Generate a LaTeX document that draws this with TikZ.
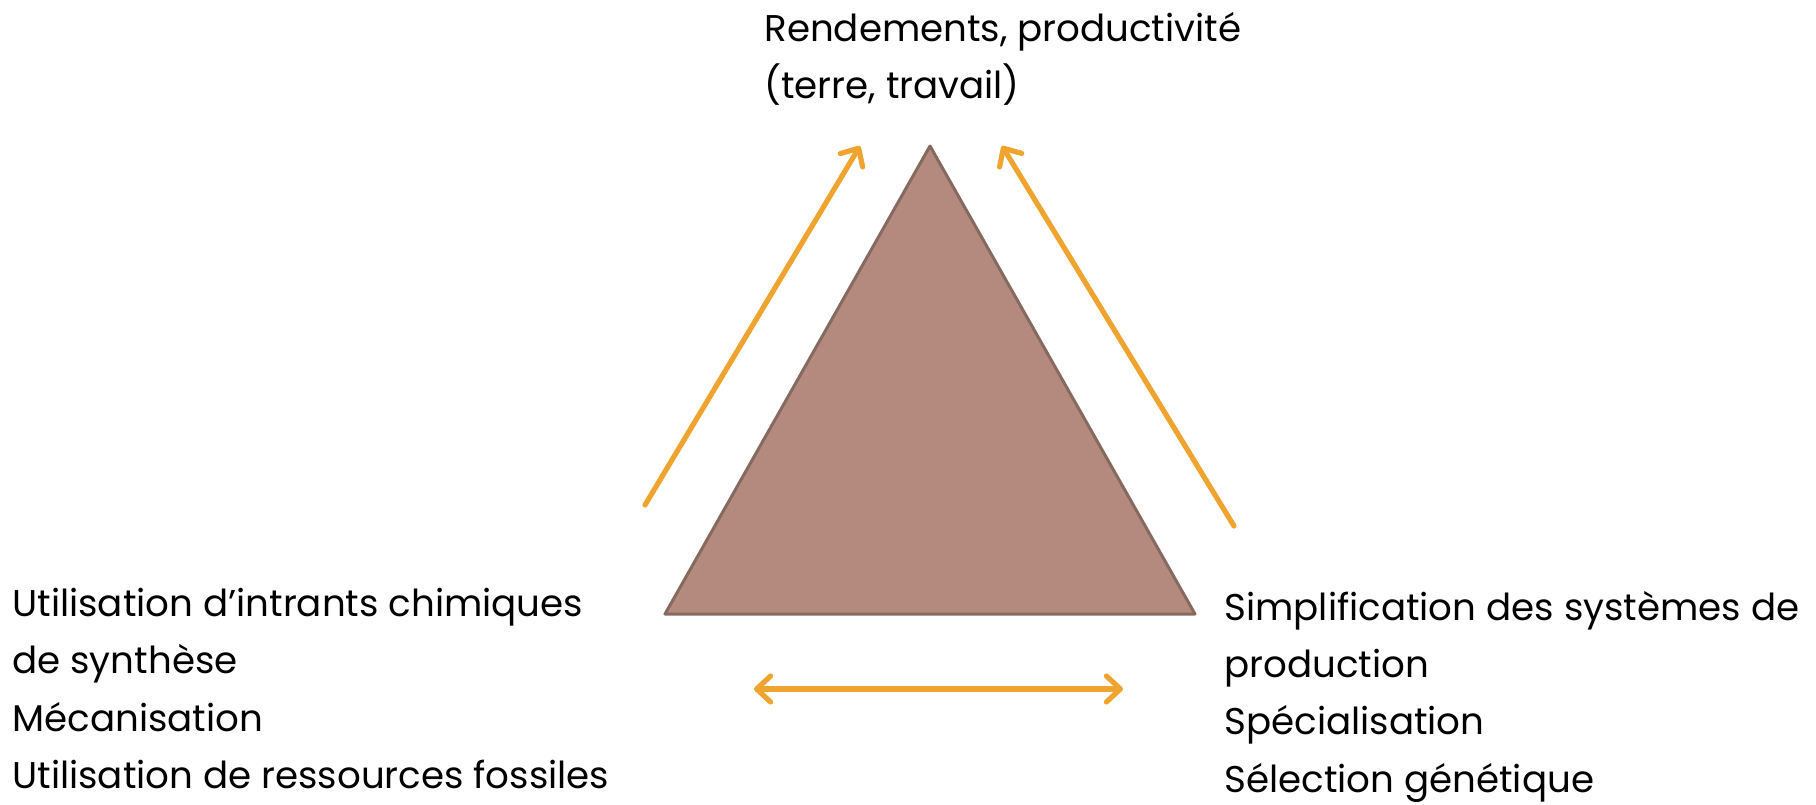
\documentclass[tikz,border=0pt]{standalone}
\usepackage{fontspec}
\setmainfont{Poppins}
\usetikzlibrary{arrows.meta}
\usetikzlibrary{positioning}
\definecolor{flecheorange}{HTML}{F0A430}
\definecolor{triangfill}{HTML}{B48A7E}
\definecolor{triangdraw}{HTML}{866A5F}

\begin{document}
\begin{tikzpicture}[
				x=0.5pt, y=-0.5pt,
				fleche/.style={line width=2.6pt, flecheorange, line cap=round, -{Straight Barb[round, length=7pt, width=13pt]}},
				doublefleche/.style={fleche, {Straight Barb[round, length=7pt, width=13pt]}-{Straight Barb[round, length=7pt, width=13pt]}},
				texte/.style={inner sep=0pt, align=left, anchor=north west, font=\fontsize{18.6}{28.6}\selectfont},
			]
				\useasboundingbox (0,0) rectangle (1816,804);
				
				\coordinate (sommet) at (930,146);
				\coordinate (gauche) at (665,614);
				\coordinate (droite) at (1195,614);
				\filldraw[fill=triangfill, draw=triangdraw, line width=1.5pt, line join=round] (sommet) -- (gauche) -- (droite) -- cycle;
				
				\node (rendement) [texte] at (764,12) {Rendements, productivité\\(terre, travail)};
				\node (intrants) [texte] at (12,588) {Utilisation d’intrants chimiques\\de synthèse\\Mécanisation\\Utilisation de ressources fossiles};
				\node (simplif) [texte] at (1224,591) {Simplification des systèmes de\\production\\Spécialisation\\Sélection génétique};
				
				\coordinate (g1) at (645,505);
				\coordinate (g2) at (860,146);
				\coordinate (d1) at (1234,526);
				\coordinate (d2) at (1002,146);
				\coordinate (b1) at (754,689);
				\coordinate (b2) at (1123,689);
				
				\draw[fleche] (g1) -- (g2);
				\draw[fleche] (d1) -- (d2);
				\draw[doublefleche] (b1) -- (b2);
			\end{tikzpicture}
\end{document}
